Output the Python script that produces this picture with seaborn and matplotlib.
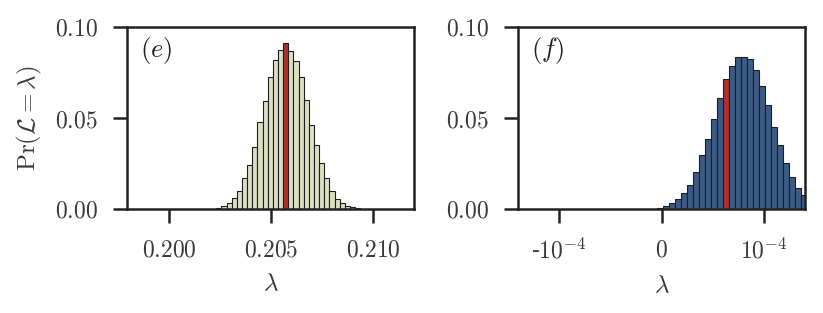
import numpy as np
import pandas as pd
import seaborn as sns
import matplotlib
matplotlib.use("Agg")
import matplotlib.pyplot as plt

# panel (e): histogram of lambda, bins
e_start = 0.20232
e_width = 0.000252
e_heights = [0.0006, 0.0015, 0.0031, 0.0061, 0.0101, 0.0168, 0.0244, 0.0341,
             0.0478, 0.0596, 0.0727, 0.0817, 0.0871, 0.0910, 0.0869, 0.0812,
             0.0723, 0.0598, 0.0461, 0.0352, 0.0255, 0.0168, 0.0098, 0.0057,
             0.0031, 0.0018, 0.0009, 0.0004]
e_red = 13
e_ticks = [0.200, 0.205, 0.210]
e_ticklabels = ["$0.200$", "$0.205$", "$0.210$"]

# panel (f)
f_start = -0.43e-5
f_width = 0.585e-5
f_heights = [0.0007, 0.0017, 0.0031, 0.0053, 0.0088, 0.0134, 0.0203, 0.0297,
             0.0387, 0.0497, 0.0611, 0.0713, 0.0785, 0.0836, 0.0836, 0.0823,
             0.0762, 0.0674, 0.0571, 0.0448, 0.0354, 0.0254, 0.0177, 0.0118,
             0.0076, 0.0045, 0.0025]
f_red = 11
f_ticks = [-1e-4, 0, 1e-4]
f_ticklabels = ["-$10^{-4}$", "$0$", "$10^{-4}$"]

y_ticks = [0.0, 0.05, 0.10]
y_ticklabels = ["$0.00$", "$0.05$", "$0.10$"]

sns.set_theme(style="ticks")
plt.rcParams["font.family"] = ["DejaVu Serif"]
plt.rcParams["mathtext.fontset"] = "cm"

TXT = "#3a3a3a"


def draw_panel(ax, start, width, heights, red_idx, color, xlim, ticks, ticklabels, tag):
    n = len(heights)
    edges = start + width * np.arange(n + 1)
    centers = (edges[:-1] + edges[1:]) / 2
    df = pd.DataFrame({"lam": centers, "p": heights})
    sns.histplot(data=df, x="lam", weights="p", bins=list(edges), ax=ax,
                 color=color, alpha=1, edgecolor="#1e1e1e", linewidth=0.8)
    ax.patches[red_idx].set_facecolor("#b0302c")
    ax.set_xlim(*xlim)
    ax.set_ylim(0, 0.10)
    ax.set_xticks(ticks)
    ax.set_xticklabels(ticklabels, fontsize=17)
    ax.set_yticks(y_ticks)
    ax.set_yticklabels(y_ticklabels, fontsize=17)
    ax.set_xlabel(r"$\lambda$", fontsize=18, labelpad=8, color=TXT)
    ax.set_ylabel("")
    for s in ax.spines.values():
        s.set_linewidth(1.8)
        s.set_color("#222222")
    ax.tick_params(direction="out", length=10, width=1.8, color="#222222",
                   labelcolor=TXT, pad=11)
    ax.text(0.045, 0.955, tag, transform=ax.transAxes, fontsize=19,
            va="top", ha="left", color="#222222")


fig = plt.figure(figsize=(8.23, 3.13), dpi=100)
ax1 = fig.add_axes([127 / 823, 1 - 209 / 313, 287 / 823, 182 / 313])
ax2 = fig.add_axes([518 / 823, 1 - 209 / 313, 287 / 823, 182 / 313])

draw_panel(ax1, e_start, e_width, e_heights, e_red, "#d9e0c1",
           (0.19794, 0.21201), e_ticks, e_ticklabels, "$(e)$")
draw_panel(ax2, f_start, f_width, f_heights, f_red, "#3b5b85",
           (-1.40e-4, 1.40e-4), f_ticks, f_ticklabels, "$(f)$")

ax1.set_ylabel(r"$\mathrm{Pr}(\mathcal{L} = \lambda)$", fontsize=18,
               labelpad=8, color=TXT)

fig.savefig("out.png", dpi=100)
